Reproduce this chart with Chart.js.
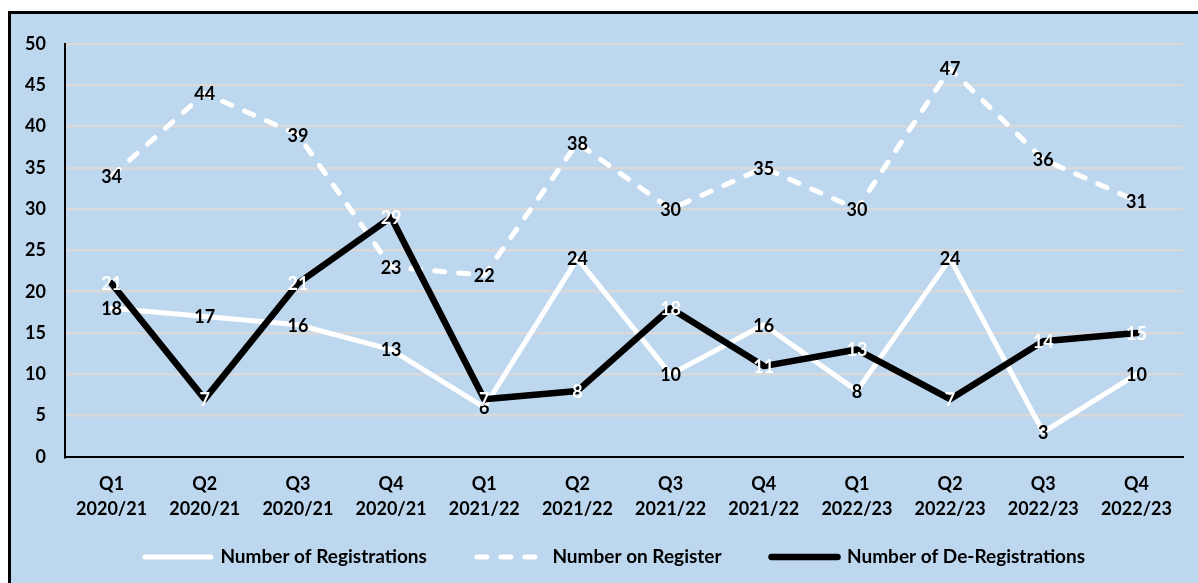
<!DOCTYPE html>
<html><head><meta charset="utf-8">
<script src="https://cdn.jsdelivr.net/npm/chart.js@4"></script>
<style>
html,body{margin:0;padding:0;background:#fff;width:1198px;height:583px;overflow:hidden;position:relative}
#frame{position:absolute;left:8px;top:11px;width:1200px;height:580px;border-top:3px solid #000;border-left:3px solid #000;background:#BDD7EE}
#wrap{position:absolute;left:11px;top:14px;width:1187px;height:569px}
</style></head><body>
<div id="frame"></div>
<div id="wrap"><canvas id="c" width="1187" height="569"></canvas></div>
<script>
const quarters = ['Q1','Q2','Q3','Q4','Q1','Q2','Q3','Q4','Q1','Q2','Q3','Q4'];
const years = ['2020/21','2020/21','2020/21','2020/21','2021/22','2021/22','2021/22','2021/22','2022/23','2022/23','2022/23','2022/23'];
const registrations = [18, 17, 16, 13, 6, 24, 10, 16, 8, 24, 3, 10];
const onRegister = [34, 44, 39, 23, 22, 38, 30, 35, 30, 47, 36, 31];
const deRegistrations = [21, 7, 21, 29, 7, 8, 18, 11, 13, 7, 14, 15];
const seriesNames = ['Number of Registrations', 'Number on Register', 'Number of De-Registrations'];
const yTicks = [0, 5, 10, 15, 20, 25, 30, 35, 40, 45, 50];

const FONT = 'Lato';
const FS = 18;
const LFS = 19;
const labelColors = ['#000000', '#000000', '#ffffff'];

const labelPlugin = {
  id: 'vlabels',
  afterLayout(chart) {
    const lg = chart.legend;
    if (!lg) return;
    const P = lg.options.labels.padding;
    lg.top = 543 - P - LFS / 2;
    lg.height = 569 - lg.top;
    lg.bottom = 569;
    lg.left = 4;
    lg.right = 1204;
    lg.width = 1200;
  },
  afterDatasetsDraw(chart) {
    const ctx = chart.ctx;
    ctx.save();
    ctx.font = 'bold ' + FS + 'px ' + FONT;
    ctx.textAlign = 'center';
    ctx.textBaseline = 'middle';
    chart.data.datasets.forEach((ds, i) => {
      const meta = chart.getDatasetMeta(i);
      ctx.fillStyle = labelColors[i];
      meta.data.forEach((pt, j) => ctx.fillText(String(ds.data[j]), pt.x, pt.y + 1));
    });
    ctx.restore();
  }
};

new Chart(document.getElementById('c'), {
  type: 'line',
  data: {
    labels: quarters.map((q, i) => [q, years[i]]),
    datasets: [
      { label: seriesNames[0], data: registrations, borderColor: '#ffffff', borderWidth: 5,
        borderCapStyle: 'round', borderJoinStyle: 'round', pointRadius: 0, order: 3, tension: 0 },
      { label: seriesNames[1], data: onRegister, borderColor: '#ffffff', borderWidth: 5, borderDash: [10, 14],
        borderCapStyle: 'round', borderJoinStyle: 'round', pointRadius: 0, order: 2, tension: 0 },
      { label: seriesNames[2], data: deRegistrations, borderColor: '#000000', borderWidth: 6.5,
        borderCapStyle: 'round', borderJoinStyle: 'round', pointRadius: 0, order: 1, tension: 0 }
    ]
  },
  options: {
    responsive: false,
    animation: false,
    devicePixelRatio: 1,
    layout: { padding: { left: 0, right: 15, top: 26, bottom: 0 } },
    plugins: {
      tooltip: { enabled: false },
      legend: {
        position: 'bottom',
        maxHeight: 56,
        labels: {
          usePointStyle: true,
          pointStyleWidth: 66,
          padding: 50,
          color: '#000',
          font: { family: FONT, size: LFS, weight: 'bold' },
          generateLabels: (chart) => chart.data.datasets.map((ds, i) => ({
            text: ds.label,
            fillStyle: 'rgba(0,0,0,0)',
            strokeStyle: ds.borderColor,
            lineWidth: ds.borderWidth,
            lineDash: ds.borderDash || [],
            lineCap: 'round',
            pointStyle: 'line',
            hidden: false,
            datasetIndex: i,
            fontColor: '#000'
          }))
        }
      }
    },
    scales: {
      x: {
        offset: true,
        grid: { display: false, drawTicks: false },
        border: { display: true, color: '#000', width: 2 },
        ticks: { color: '#000', padding: 15, maxRotation: 0, autoSkip: false,
          font: { family: FONT, size: FS, weight: 'bold', lineHeight: 1.36 } },
        afterFit: (s) => { s.height = 70; }
      },
      y: {
        min: 0, max: 50,
        afterBuildTicks: (s) => { s.ticks = yTicks.map(v => ({ value: v })); },
        grid: { color: '#D9D9D9', lineWidth: 2.5, drawTicks: false },
        border: { display: true, color: '#000', width: 2 },
        ticks: { color: '#000', padding: 19, font: { family: FONT, size: FS, weight: 'bold' } },
        afterFit: (s) => { s.width = 54; }
      }
    }
  },
  plugins: [labelPlugin]
});
</script>
</body></html>
